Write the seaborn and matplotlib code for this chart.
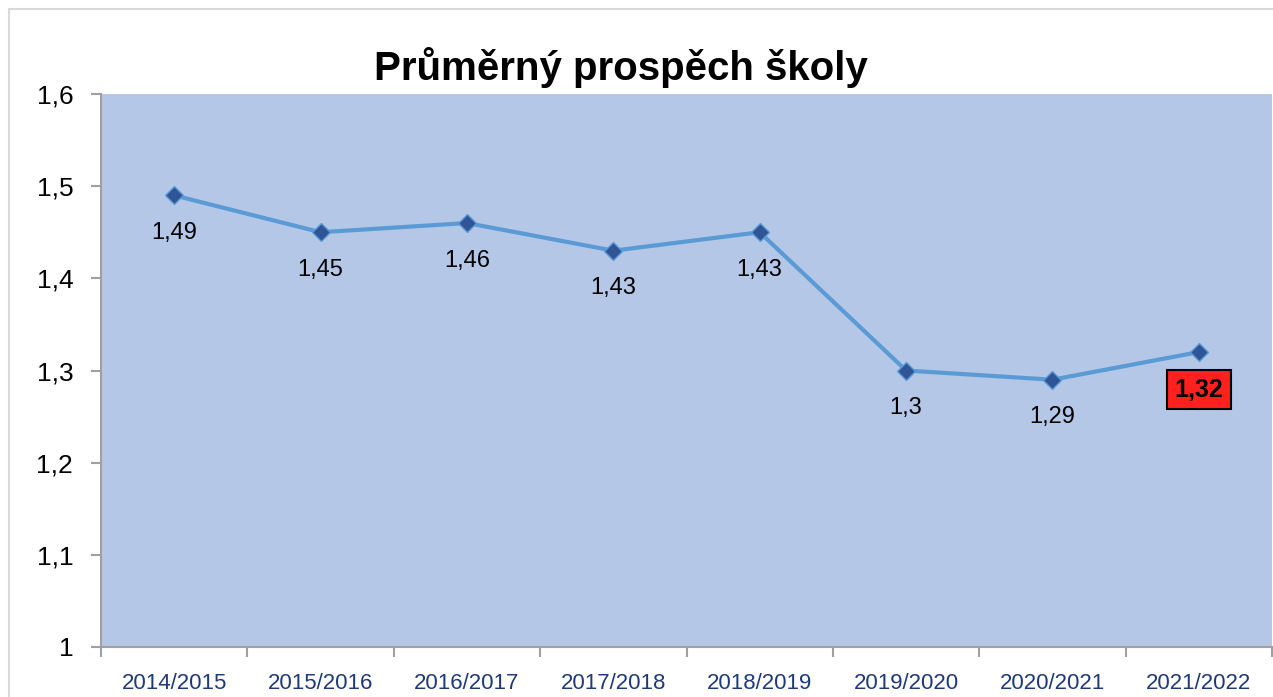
import matplotlib
matplotlib.use("Agg")
import matplotlib.pyplot as plt
import matplotlib.font_manager as fm
import seaborn as sns
import pandas as pd
from matplotlib.patches import Rectangle

# data
years = ["2014/2015", "2015/2016", "2016/2017", "2017/2018",
         "2018/2019", "2019/2020", "2020/2021", "2021/2022"]
prospech = [1.49, 1.45, 1.46, 1.43, 1.45, 1.30, 1.29, 1.32]
point_labels = ["1,49", "1,45", "1,46", "1,43", "1,43", "1,3", "1,29", "1,32"]
y_ticks = [1.0, 1.1, 1.2, 1.3, 1.4, 1.5, 1.6]
y_tick_labels = ["1", "1,1", "1,2", "1,3", "1,4", "1,5", "1,6"]

df = pd.DataFrame({"rok": years, "prospech": prospech})

sns.set_theme(style="white")
installed = {f.name for f in fm.fontManager.ttflist}
fams = [f for f in ["Liberation Sans Narrow", "Liberation Sans", "DejaVu Sans"] if f in installed]
plt.rcParams["font.family"] = fams

fig = plt.figure(figsize=(12.73, 6.97), dpi=100)
ax = fig.add_axes([101 / 1273, 1 - 647 / 697, 1171 / 1273, 553 / 697])
ax.set_facecolor("#B4C7E7")

# outer chart border
fig.patches.append(Rectangle((9 / 1273, -0.05), 1.2, (697 - 9) / 697 + 0.05,
                             transform=fig.transFigure, fill=False,
                             edgecolor="#D9D9D9", linewidth=1.5, zorder=0))

sns.lineplot(data=df, x="rok", y="prospech", ax=ax, sort=False,
             color="#5B9BD5", linewidth=3, marker="D", markersize=9,
             markerfacecolor="#2F5597", markeredgecolor="#5B9BD5",
             markeredgewidth=1)

# data labels under each point
for i, (v, lab) in enumerate(zip(prospech, point_labels)):
    if i == len(prospech) - 1:
        ax.annotate(lab, (i, v), xytext=(0, -27), textcoords="offset points",
                    ha="center", va="center", fontsize=18, fontweight="bold",
                    color="black",
                    bbox=dict(boxstyle="square,pad=0.3", facecolor="#FF2020",
                              edgecolor="black", linewidth=1.5))
    else:
        ax.annotate(lab, (i, v), xytext=(0, -27), textcoords="offset points",
                    ha="center", va="center", fontsize=17, color="black")

ax.set_xlim(-0.5, len(years) - 0.5)
ax.set_ylim(1.0, 1.6)
ax.set_yticks(y_ticks)
ax.set_yticklabels(y_tick_labels, fontsize=19, color="black")
ax.set_xticks(range(len(years)))
ax.set_xticklabels(years, fontsize=16, color="#1F3A78")
ax.set_xticks([i - 0.5 for i in range(len(years) + 1)], minor=True)
ax.tick_params(axis="x", which="major", length=0, pad=19)
ax.tick_params(axis="x", which="minor", length=7, color="#A0A0A0", width=1.5, bottom=True)
ax.tick_params(axis="y", which="major", length=7, color="#A0A0A0", width=1.5, left=True, pad=13)
ax.set_xlabel("")
ax.set_ylabel("")

for side in ["top", "right"]:
    ax.spines[side].set_visible(False)
for side in ["left", "bottom"]:
    ax.spines[side].set_color("#A0A0A0")
    ax.spines[side].set_linewidth(1.5)

fig.text(0.488, 1 - 68 / 697, "Průměrný prospěch školy", ha="center", va="center",
         fontsize=29, fontweight="bold", color="black")

fig.savefig("out.png", dpi=100)
